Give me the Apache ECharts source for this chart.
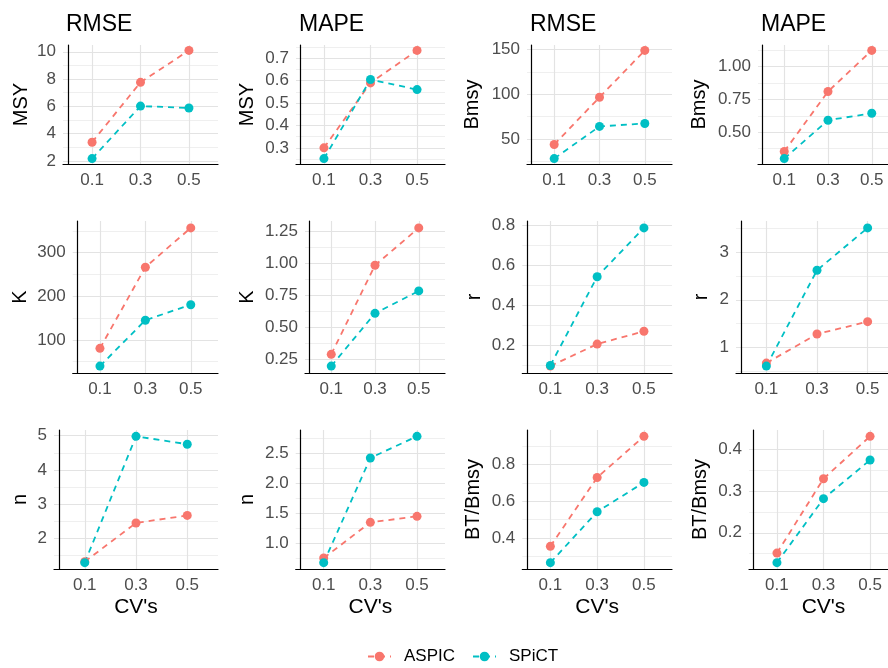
<!DOCTYPE html>
<html>
<head>
<meta charset="utf-8">
<script src="https://cdn.jsdelivr.net/npm/echarts@6/dist/echarts.min.js"></script>
<style>
  html, body { margin: 0; background: #fff; }
  #chart { width: 888px; height: 668px; }
</style>
</head>
<body>
<div id="chart"></div>
<script>
// x axis levels
var cvs = [0.1, 0.3, 0.5];
var methods = ['ASPIC', 'SPiCT'];
var colors = ['#F8766D', '#00BFC4'];
var colTitles = ['RMSE', 'MAPE', 'RMSE', 'MAPE'];
var yNames = [
  ['MSY', 'MSY', 'Bmsy', 'Bmsy'],
  ['K', 'K', 'r', 'r'],
  ['n', 'n', 'BT/Bmsy', 'BT/Bmsy']
];

var msyRmse  = [[3.37, 7.76, 10.1], [2.17, 6.02, 5.88]];
var msyMape  = [[0.30, 0.59, 0.735], [0.252, 0.605, 0.56]];
var bmsyRmse = [[43.7, 96.6, 149], [28, 64, 67.3]];
var bmsyMape = [[0.354, 0.81, 1.123], [0.30, 0.592, 0.645]];
var kRmse    = [[80.5, 266.5, 356.6], [39.8, 145, 180.5]];
var kMape    = [[0.286, 0.981, 1.273], [0.194, 0.606, 0.781]];
var rRmse    = [[0.098, 0.208, 0.272], [0.101, 0.545, 0.789]];
var rMape    = [[0.67, 1.28, 1.54], [0.607, 2.62, 3.51]];
var nRmse    = [[1.32, 2.45, 2.67], [1.29, 4.98, 4.75]];
var nMape    = [[0.757, 1.35, 1.45], [0.68, 2.42, 2.78]];
var btRmse   = [[0.355, 0.73, 0.954], [0.266, 0.543, 0.703]];
var btMape   = [[0.151, 0.33, 0.432], [0.128, 0.282, 0.375]];

// y tick labels
var tMsyRmse  = ['2', '4', '6', '8', '10'];
var tMsyMape  = ['0.3', '0.4', '0.5', '0.6', '0.7'];
var tBmsyRmse = ['50', '100', '150'];
var tBmsyMape = ['0.50', '0.75', '1.00'];
var tKRmse    = ['100', '200', '300'];
var tKMape    = ['0.25', '0.50', '0.75', '1.00', '1.25'];
var tRRmse    = ['0.2', '0.4', '0.6', '0.8'];
var tRMape    = ['1', '2', '3'];
var tNRmse    = ['2', '3', '4', '5'];
var tNMape    = ['1.0', '1.5', '2.0', '2.5'];
var tBtRmse   = ['0.4', '0.6', '0.8'];
var tBtMape   = ['0.2', '0.3', '0.4'];

var panelData = [
  [msyRmse, msyMape, bmsyRmse, bmsyMape],
  [kRmse, kMape, rRmse, rMape],
  [nRmse, nMape, btRmse, btMape]
];
var panelTicks = [
  [tMsyRmse, tMsyMape, tBmsyRmse, tBmsyMape],
  [tKRmse, tKMape, tRRmse, tRMape],
  [tNRmse, tNMape, tBtRmse, tBtMape]
];

// layout (px)
var rowTop = [45, 221, 430];
var rowHeight = [119, 152, 139];
var colLeft = [
  [63, 296, 527, 758],
  [72.7, 305, 522.3, 736],
  [54, 295.7, 522.3, 749]
];
var colRight = [218, 445, 672, 898];
var nameGaps = [
  [32, 39, 45, 49],
  [42, 48, 38, 25],
  [24, 38, 39, 39]
];

var font = 'Liberation Sans, Arial, sans-serif';
var grids = [], xAxes = [], yAxes = [], series = [], titles = [];

function round(v) { return Math.round(v * 1e9) / 1e9; }

for (var r = 0; r < 3; r++) {
  for (var c = 0; c < 4; c++) {
    var i = r * 4 + c;
    var data = panelData[r][c];
    var labels = panelTicks[r][c];
    var majors = labels.map(Number);
    var all = data[0].concat(data[1]);
    var lo = Math.min.apply(null, all), hi = Math.max.apply(null, all);
    var pad = (hi - lo) * 0.05;
    lo -= pad; hi += pad;

    // major + minor grid positions
    var step = majors[1] - majors[0];
    var minors = [round(majors[0] - step / 2)].concat(majors.map(function (v) { return round(v + step / 2); }));
    var grid = majors.concat(minors).filter(function (v) { return v > lo && v < hi; });
    grid.sort(function (a, b) { return a - b; });
    var lineColors = grid.map(function (v) {
      return minors.indexOf(v) >= 0 ? '#efefef' : '#e3e3e3';
    });

    grids.push({
      left: colLeft[r][c], top: rowTop[r],
      width: colRight[c] - colLeft[r][c], height: rowHeight[r],
      containLabel: false, outerBoundsMode: 'none'
    });

    xAxes.push({
      gridIndex: i, type: 'value', min: -0.02, max: 0.62,
      name: r === 2 ? "CV's" : '', nameLocation: 'middle', nameGap: 28,
      nameTextStyle: { fontSize: 21, color: '#000', fontFamily: font },
      axisLine: { show: true, onZero: false, lineStyle: { color: '#000', width: 1.2 } },
      axisTick: { show: false, customValues: cvs },
      axisLabel: {
        customValues: cvs, color: '#4d4d4d', fontSize: 17, margin: 8, fontFamily: font,
        formatter: function (v) { return String(round(v)); }
      },
      splitLine: { show: true, lineStyle: { color: '#e3e3e3', width: 1.2 } }
    });

    yAxes.push({
      gridIndex: i, type: 'value', min: lo, max: hi,
      name: yNames[r][c], nameLocation: 'middle', nameGap: nameGaps[r][c],
      nameTextStyle: { fontSize: 20, color: '#000', fontFamily: font },
      axisLine: { show: true, lineStyle: { color: '#000', width: 1.2 } },
      axisTick: { show: false, customValues: grid },
      axisLabel: {
        customValues: majors, color: '#4d4d4d', fontSize: 17, margin: 7, fontFamily: font,
        formatter: (function (labels, majors) {
          return function (v) {
            for (var k = 0; k < majors.length; k++) {
              if (Math.abs(majors[k] - v) < 1e-6) return labels[k];
            }
            return '';
          };
        })(labels, majors)
      },
      splitLine: { show: true, lineStyle: { color: lineColors, width: 1.2 } }
    });

    for (var s = 0; s < 2; s++) {
      series.push({
        type: 'line', name: methods[s],
        xAxisIndex: i, yAxisIndex: i,
        data: cvs.map(function (cv, k) { return [cv, data[s][k]]; }),
        symbol: 'circle', symbolSize: 9,
        lineStyle: { color: colors[s], width: 1.8, type: [6, 5] },
        itemStyle: { color: colors[s] },
        emphasis: { disabled: true }
      });
    }
  }
}

for (var c = 0; c < 4; c++) {
  titles.push({
    text: colTitles[c], left: colLeft[0][c] - 2, top: 8,
    textStyle: { fontSize: 23, fontWeight: 'normal', color: '#000', fontFamily: font }
  });
}

var chart = echarts.init(document.getElementById('chart'));
chart.setOption({
  animation: false,
  backgroundColor: '#fff',
  title: titles,
  legend: {
    data: methods, left: 362, top: 643,
    itemWidth: 23, itemHeight: 12, itemGap: 17,
    textStyle: { fontSize: 17, color: '#000', fontFamily: font, padding: [0, 0, 0, 8] }
  },
  grid: grids,
  xAxis: xAxes,
  yAxis: yAxes,
  series: series
});
</script>
</body>
</html>
